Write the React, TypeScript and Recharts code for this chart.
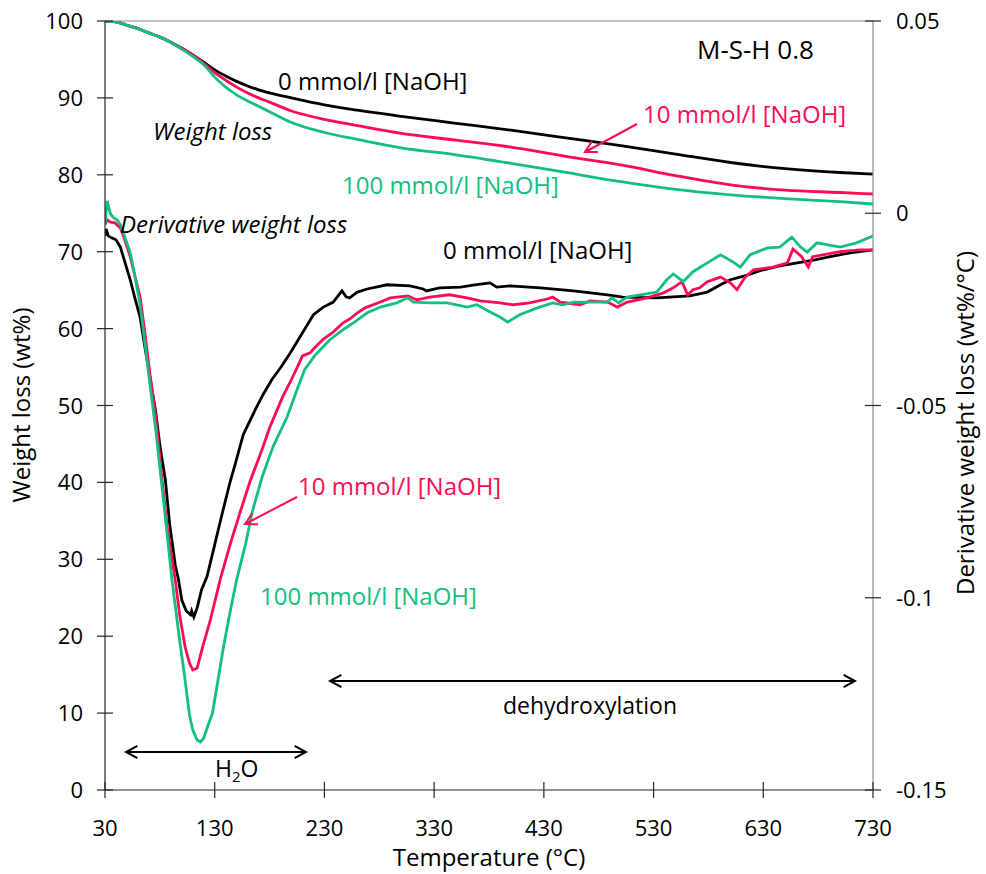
import React from "react";
import { LineChart, Line, XAxis, YAxis, ReferenceLine } from "recharts";

const FONT = "'Open Sans', 'Noto Sans', sans-serif";
const BLACK = "#000000";
const RED = "#ff0a54";
const GREEN = "#12bf80";

// axis ticks
const TEMP_TICKS = [30, 130, 230, 330, 430, 530, 630, 730];
const WT_TICKS = [0, 10, 20, 30, 40, 50, 60, 70, 80, 90, 100];
const DTG_TICKS = [-0.15, -0.1, -0.05, 0, 0.05];

// weight loss (TG), wt%
const tgTemp = [30, 40, 50, 60, 70, 80, 90, 100, 110, 120, 130, 140, 150, 160, 170, 180, 200, 230, 260, 300, 350, 400, 450, 500, 550, 600, 650, 700, 730];
const tg0 = [100, 99.9, 99.45, 99.0, 98.45, 97.9, 97.25, 96.45, 95.6, 94.65, 93.65, 92.85, 92.15, 91.55, 91.05, 90.65, 90.0, 89.1, 88.4, 87.6, 86.7, 85.8, 84.8, 83.8, 82.7, 81.6, 80.8, 80.3, 80.1];
const tg10 = [100, 99.9, 99.45, 99.0, 98.45, 97.9, 97.25, 96.45, 95.55, 94.5, 93.3, 92.3, 91.4, 90.65, 90.0, 89.45, 88.3, 87.2, 86.4, 85.4, 84.5, 83.6, 82.4, 81.3, 79.9, 78.7, 78.0, 77.7, 77.5];
const tg100 = [100, 99.9, 99.45, 99.0, 98.45, 97.9, 97.2, 96.35, 95.4, 94.3, 92.7, 91.4, 90.4, 89.6, 88.9, 88.2, 86.8, 85.5, 84.6, 83.5, 82.6, 81.5, 80.3, 79.1, 78.1, 77.4, 76.9, 76.5, 76.2];

// derivative weight loss (DTG), wt%/°C
const dtg0Temp = [30, 31, 33, 36, 40, 44, 48, 53, 57, 62, 66, 71, 76, 80, 85, 89, 94, 97, 100, 104, 108, 109, 111, 114, 118, 123, 130, 137, 144, 149, 156, 159, 167, 174, 182, 190, 199, 210, 220, 229, 238, 241, 246, 250, 253, 260, 269, 287, 308, 320, 323, 335, 354, 367, 381, 387, 399, 427, 457, 488, 502, 533, 563, 579, 591, 600, 613, 630, 645, 661, 677, 691, 709, 730];
const dtg0 = [-0.0059, -0.0041, -0.0059, -0.0064, -0.0069, -0.0088, -0.0126, -0.0173, -0.0218, -0.027, -0.0342, -0.0428, -0.0512, -0.0603, -0.0693, -0.081, -0.0914, -0.0953, -0.1006, -0.1034, -0.1044, -0.1034, -0.105, -0.1026, -0.0979, -0.0945, -0.0862, -0.0779, -0.0699, -0.0649, -0.0576, -0.0558, -0.0511, -0.0472, -0.0433, -0.0402, -0.0363, -0.0311, -0.0264, -0.0244, -0.0231, -0.022, -0.0202, -0.0218, -0.022, -0.0205, -0.0197, -0.0186, -0.0189, -0.0197, -0.0202, -0.0194, -0.0192, -0.0186, -0.0181, -0.0192, -0.0189, -0.0194, -0.0202, -0.0212, -0.0218, -0.022, -0.0215, -0.0205, -0.0186, -0.0173, -0.0163, -0.0147, -0.0137, -0.0129, -0.0121, -0.0113, -0.0103, -0.0095];

const dtg10Temp = [30, 32, 35, 39, 44, 48, 53, 57, 62, 66, 71, 76, 82, 87, 94, 98, 103, 107, 110, 114, 119, 126, 135, 144, 153, 162, 174, 180, 192, 199, 205, 210, 217, 221, 229, 238, 247, 253, 260, 267, 281, 290, 306, 314, 326, 344, 360, 372, 390, 402, 417, 433, 438, 445, 463, 472, 488, 497, 506, 524, 539, 548, 556, 561, 566, 572, 579, 591, 600, 606, 613, 621, 639, 652, 657, 665, 671, 675, 700, 718, 730];
const dtg10 = [-0.003, -0.0017, -0.0023, -0.0025, -0.0038, -0.0069, -0.0113, -0.016, -0.0218, -0.0303, -0.042, -0.0524, -0.0693, -0.0823, -0.0953, -0.1044, -0.1128, -0.117, -0.1188, -0.1183, -0.1128, -0.1058, -0.0953, -0.0862, -0.0779, -0.0699, -0.0608, -0.0558, -0.0477, -0.0438, -0.0402, -0.0371, -0.0363, -0.035, -0.0327, -0.0309, -0.0285, -0.0275, -0.0259, -0.0246, -0.0231, -0.022, -0.0215, -0.0225, -0.0218, -0.0212, -0.022, -0.0228, -0.0233, -0.0238, -0.0233, -0.0223, -0.0218, -0.0231, -0.0238, -0.0228, -0.0231, -0.0244, -0.0231, -0.022, -0.0207, -0.0194, -0.0178, -0.0212, -0.0199, -0.0194, -0.0178, -0.0166, -0.0181, -0.0199, -0.0168, -0.0147, -0.014, -0.0129, -0.0093, -0.0113, -0.014, -0.0113, -0.01, -0.0095, -0.0095];

const dtg100Temp = [30, 31, 32, 34, 35, 38, 41, 44, 48, 53, 57, 62, 66, 71, 76, 83, 91, 98, 103, 107, 110, 114, 117, 120, 124, 128, 133, 138, 144, 150, 158, 164, 173, 183, 196, 205, 212, 221, 228, 235, 247, 258, 269, 281, 296, 306, 311, 326, 342, 360, 369, 381, 390, 397, 408, 424, 438, 447, 457, 472, 488, 492, 498, 506, 518, 533, 542, 548, 557, 566, 579, 591, 602, 609, 618, 634, 645, 656, 664, 670, 679, 700, 715, 730];
const dtg100 = [-0.003, 0.0003, 0.0032, 0.0009, -0.0002, -0.0012, -0.0017, -0.003, -0.0061, -0.0103, -0.016, -0.0238, -0.0329, -0.0446, -0.0558, -0.0738, -0.0953, -0.111, -0.1214, -0.1305, -0.1344, -0.137, -0.1375, -0.1365, -0.1331, -0.13, -0.1214, -0.1128, -0.1037, -0.0953, -0.0862, -0.0779, -0.0688, -0.0608, -0.053, -0.0459, -0.0407, -0.0371, -0.035, -0.0329, -0.0303, -0.0282, -0.0259, -0.0244, -0.0233, -0.022, -0.0231, -0.0233, -0.0233, -0.0244, -0.0238, -0.0257, -0.027, -0.0283, -0.0264, -0.0246, -0.0233, -0.0238, -0.0231, -0.0231, -0.0231, -0.022, -0.0233, -0.0218, -0.0212, -0.0205, -0.0173, -0.0158, -0.0178, -0.0152, -0.0129, -0.0108, -0.0126, -0.014, -0.0108, -0.009, -0.0088, -0.0062, -0.0088, -0.0101, -0.0077, -0.0088, -0.0077, -0.0059];

const toPoints = (t: number[], v: number[]) => t.map((x, i) => ({ t: x, v: v[i] }));

const LeftTick = ({ x, y, payload }: any) => (
  <g>
    <line x1={x - 8} x2={x + 8} y1={y} y2={y} stroke="#262626" strokeWidth={1.2} />
    <text x={x - 22} y={y + 8} textAnchor="end" fontSize={22} fontFamily={FONT} fill="#000">
      {payload.value}
    </text>
  </g>
);

const RightTick = ({ x, y, payload }: any) => (
  <g>
    <line x1={x - 8} x2={x + 8} y1={y} y2={y} stroke="#262626" strokeWidth={1.2} />
    <text x={x + 23} y={y + 8} textAnchor="start" fontSize={22} fontFamily={FONT} fill="#000">
      {String(payload.value)}
    </text>
  </g>
);

const BottomTick = ({ x, y, payload }: any) => (
  <g>
    <line x1={x} x2={x} y1={y - 8} y2={y + 8} stroke="#262626" strokeWidth={1.2} />
    <text x={x} y={y + 46} textAnchor="middle" fontSize={22} fontFamily={FONT} fill="#000">
      {payload.value}
    </text>
  </g>
);

const Arrow = ({ x1, y1, x2, y2, color, both = false, head = 13 }: any) => {
  const spread = 0.5;
  const headAt = (px: number, py: number, ang: number) => {
    const a = [px - head * Math.cos(ang - spread), py - head * Math.sin(ang - spread)];
    const b = [px - head * Math.cos(ang + spread), py - head * Math.sin(ang + spread)];
    return `${a[0]},${a[1]} ${px},${py} ${b[0]},${b[1]}`;
  };
  const ang = Math.atan2(y2 - y1, x2 - x1);
  return (
    <g stroke={color} strokeWidth={2} fill="none">
      <line x1={x1} y1={y1} x2={x2} y2={y2} />
      <polyline points={headAt(x2, y2, ang)} />
      {both && <polyline points={headAt(x1, y1, ang + Math.PI)} />}
    </g>
  );
};

const Annotations = () => (
  <svg width={986} height={874} style={{ position: "absolute", left: 0, top: 0, pointerEvents: "none" }}>
    <g fontFamily={FONT} fontSize={24}>
      <text x={697} y={59} fontSize={26} fill={BLACK}>M-S-H 0.8</text>
      <text x={278} y={90} fill={BLACK}>0 mmol/l [NaOH]</text>
      <text x={643} y={123} fill={RED}>10 mmol/l [NaOH]</text>
      <text x={153} y={140} fill={BLACK} fontStyle="italic">Weight loss</text>
      <text x={342} y={194} fill={GREEN}>100 mmol/l [NaOH]</text>
      <text x={120} y={233} fill={BLACK} fontStyle="italic">Derivative weight loss</text>
      <text x={443} y={259} fill={BLACK}>0 mmol/l [NaOH]</text>
      <text x={298} y={495} fill={RED}>10 mmol/l [NaOH]</text>
      <text x={260} y={605} fill={GREEN}>100 mmol/l [NaOH]</text>
      <text x={590} y={714} fill={BLACK} textAnchor="middle" fontSize={23}>dehydroxylation</text>
      <text x={215} y={777} fill={BLACK} fontSize={23}>
        H<tspan fontSize={15} dy={5}>2</tspan><tspan dy={-5}>O</tspan>
      </text>
      <text x={489} y={866} fill={BLACK} textAnchor="middle">Temperature (°C)</text>
      <text x={30} y={405} fill={BLACK} textAnchor="middle" transform="rotate(-90 30 405)">Weight loss (wt%)</text>
      <text x={974} y={423} fill={BLACK} textAnchor="middle" transform="rotate(-90 974 423)">Derivative weight loss (wt%/°C)</text>
    </g>
    <Arrow x1={637} y1={124} x2={585} y2={152} color={RED} />
    <Arrow x1={297} y1={497} x2={245} y2={524} color={RED} />
    <Arrow x1={330} y1={681} x2={855} y2={681} color={BLACK} both />
    <Arrow x1={126} y1={752} x2={306} y2={752} color={BLACK} both />
  </svg>
);

export default function App() {
  const lineProps = { dataKey: "v", dot: false, isAnimationActive: false, strokeWidth: 2.8 };
  return (
    <div style={{ position: "absolute", left: 0, top: 0, width: 986, height: 874, background: "#fff" }}>
      <LineChart width={986} height={874} margin={{ top: 21, right: 0, bottom: 0, left: 0 }}>
        <XAxis
          dataKey="t"
          type="number"
          domain={[30, 730]}
          ticks={TEMP_TICKS}
          interval={0}
          height={84}
          tickSize={0}
          tickMargin={0}
          tickLine={false}
          tick={<BottomTick />}
          axisLine={{ stroke: "#262626", strokeWidth: 1.2 }}
          allowDataOverflow
        />
        <YAxis
          yAxisId="left"
          orientation="left"
          domain={[0, 100]}
          ticks={WT_TICKS}
          interval={0}
          width={105}
          tickSize={0}
          tickMargin={0}
          tickLine={false}
          tick={<LeftTick />}
          axisLine={{ stroke: "#262626", strokeWidth: 1.2 }}
          allowDataOverflow
        />
        <YAxis
          yAxisId="right"
          orientation="right"
          domain={[-0.15, 0.05]}
          ticks={DTG_TICKS}
          interval={0}
          width={113}
          tickSize={0}
          tickMargin={0}
          tickLine={false}
          tick={<RightTick />}
          axisLine={{ stroke: "#8c8c8c", strokeWidth: 1.2 }}
          allowDataOverflow
        />
        <ReferenceLine yAxisId="left" y={100} stroke="#8c8c8c" strokeWidth={1.2} />
        <Line {...lineProps} yAxisId="left" type="monotone" data={toPoints(tgTemp, tg0)} stroke={BLACK} />
        <Line {...lineProps} yAxisId="left" type="monotone" data={toPoints(tgTemp, tg10)} stroke={RED} />
        <Line {...lineProps} yAxisId="left" type="monotone" data={toPoints(tgTemp, tg100)} stroke={GREEN} />
        <Line {...lineProps} yAxisId="right" type="linear" data={toPoints(dtg0Temp, dtg0)} stroke={BLACK} />
        <Line {...lineProps} yAxisId="right" type="linear" data={toPoints(dtg10Temp, dtg10)} stroke={RED} />
        <Line {...lineProps} yAxisId="right" type="linear" data={toPoints(dtg100Temp, dtg100)} stroke={GREEN} />
      </LineChart>
      <Annotations />
    </div>
  );
}
